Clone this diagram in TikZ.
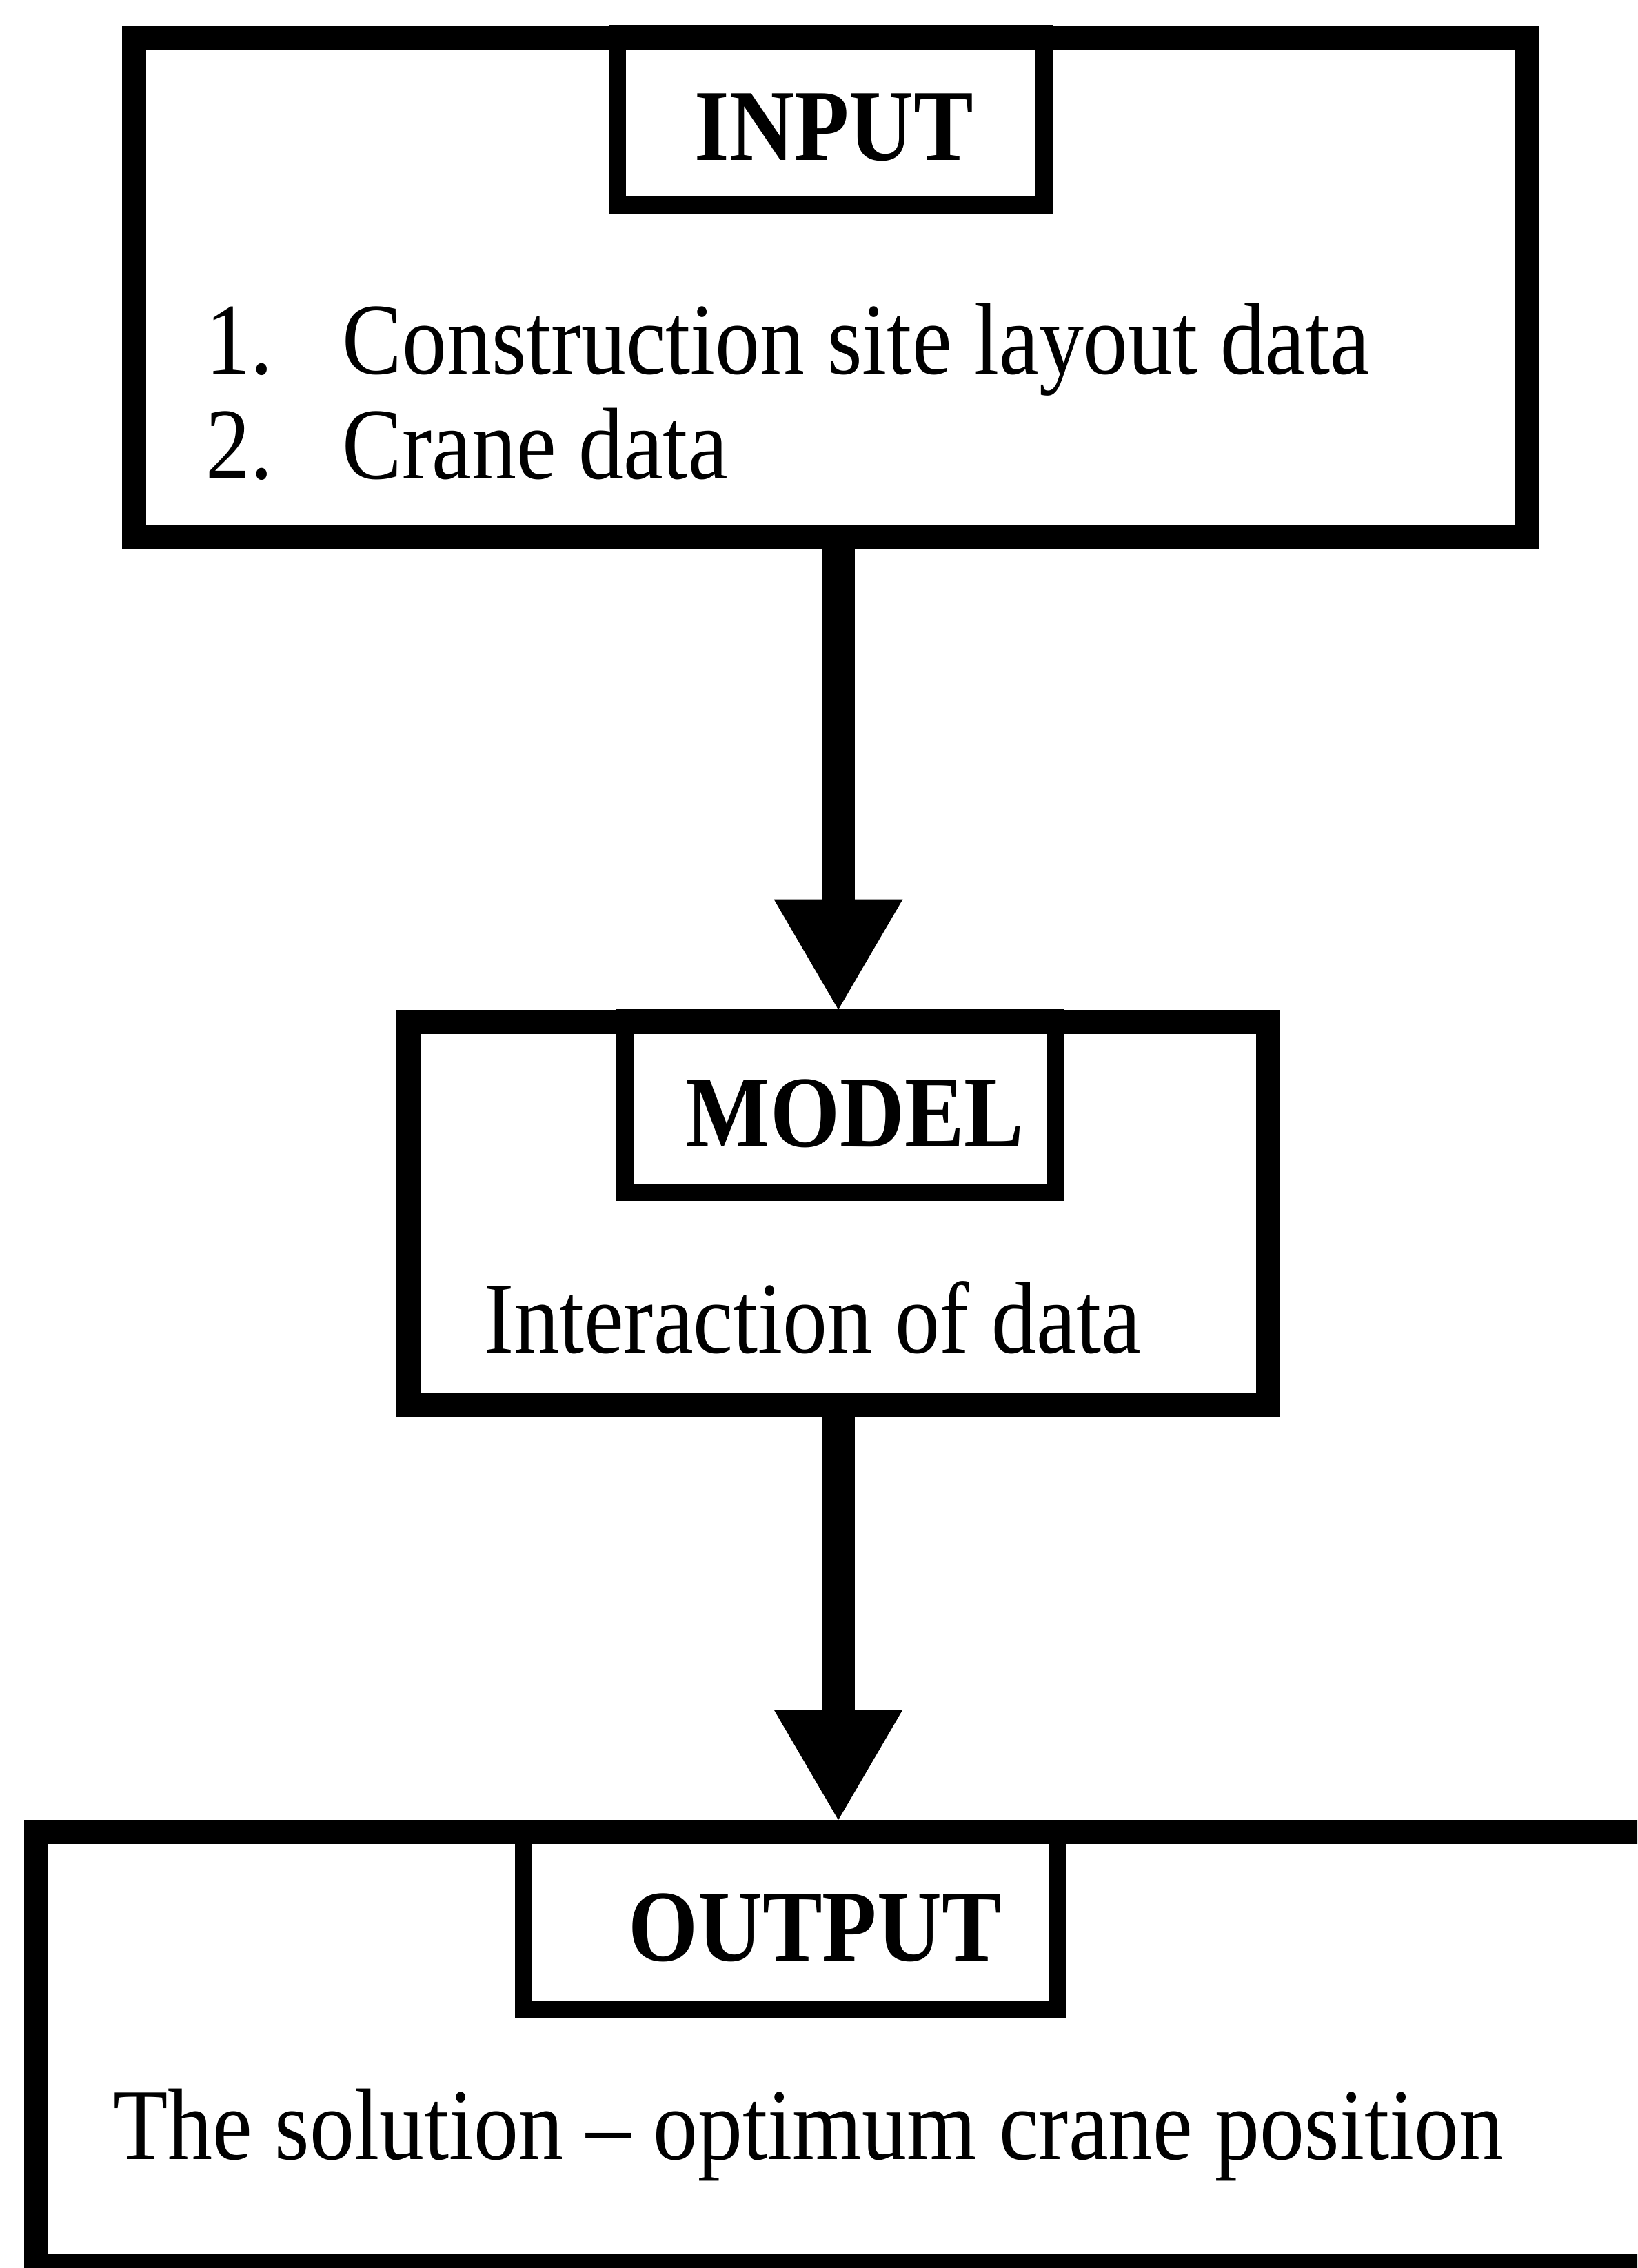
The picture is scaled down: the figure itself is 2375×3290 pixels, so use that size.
\documentclass[tikz,border=0pt]{standalone}
\usepackage{fontspec}
\setmainfont{Liberation Serif}[FakeStretch=0.88]
\usetikzlibrary{arrows.meta}

\tikzstyle{mainbox} = [draw,line width=3.5mm,inner sep=0pt]
\tikzstyle{headbox} = [draw,line width=2.5mm,anchor=north,inner sep=0pt,font=\fontsize{42}{50}\selectfont\bfseries,text height=12mm,text depth=0pt]
\tikzstyle{bodytext} = [inner sep=0pt]
\tikzstyle{flowarrow} = [line width=4.7mm,-{Triangle[width=18.7mm,length=16mm,line width=0pt]}]

\begin{document}
\begin{tikzpicture}[x=0.1mm,y=-0.1mm,font=\fontsize{42}{50}\selectfont]
\clip (0,0) rectangle (2375,3290);
% the three frames
\node[mainbox,minimum width=202.1mm,minimum height=72.4mm] (input) at (1205,416) {};
\node[mainbox,minimum width=124.7mm,minimum height=55.6mm] (model) at (1216,1760) {};
\node[mainbox,minimum width=239.7mm,minimum height=62.9mm] (output) at (1251,2972) {};
% headings
\node[headbox,minimum width=61.9mm,minimum height=24.85mm] (inputhead) at (1205,36) {\hspace*{1mm}INPUT};
\node[headbox,minimum width=62.4mm,minimum height=25.3mm] (modelhead) at (1218,1464) {\hspace*{4.4mm}MODEL};
\node[headbox,minimum width=77.5mm,minimum height=26.3mm] (outputhead) at (1147,2640) {\hspace*{7mm}OUTPUT};
% contents
\foreach \txt [count=\i] in {Construction site layout data,Crane data} {
	\node[bodytext,anchor=base west] (item\i) at (298,390+152*\i) {\makebox[19.8mm][l]{\i.}\txt};
}
\node[bodytext,anchor=base] (modeltext) at (1179,1962) {Interaction of data};
\node[bodytext,anchor=base] (outputtext) at (1173,3132) {The solution – optimum crane position};
% arrows
\draw[flowarrow] (model.north |- input.south) -- (model.north);
\draw[flowarrow] (model.south) -- (model.south |- output.north);
\end{tikzpicture}
\end{document}
